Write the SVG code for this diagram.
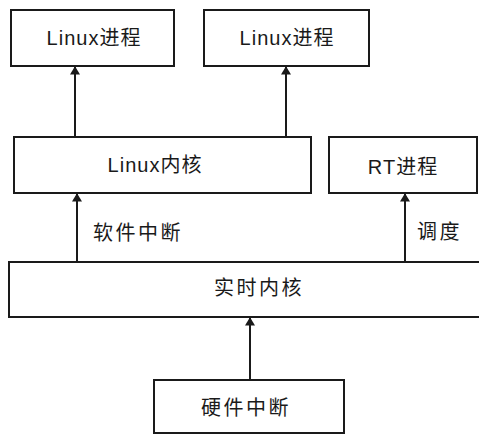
<svg xmlns="http://www.w3.org/2000/svg" width="479" height="434" viewBox="0 0 479 434">
<style>
.box{fill:#fff;stroke:#1a1a1a;stroke-width:2}
.t{font-family:"Liberation Sans","Noto Sans CJK SC",sans-serif;font-size:20px;fill:#1a1a1a;text-anchor:middle;dominant-baseline:central;letter-spacing:1px}
.w{letter-spacing:2.5px}
.lbl{text-anchor:start}
.c{stroke:#1a1a1a;stroke-width:2;fill:none;marker-end:url(#ah)}
</style>
<defs>
<marker id="ah" viewBox="0 0 10 12" refX="9" refY="6" markerWidth="5.5" markerHeight="5" orient="auto" markerUnits="strokeWidth">
<path d="M0,0 L10,6 L0,12 z" fill="#1a1a1a"/>
</marker>
</defs>
<rect width="479" height="434" fill="#fff"/>
<g id="connectors">
<line class="c" x1="75" y1="137" x2="75" y2="67"/>
<line class="c" x1="286" y1="137" x2="286" y2="67"/>
<line class="c" x1="77" y1="262" x2="77" y2="194"/>
<line class="c" x1="405" y1="262" x2="405" y2="194"/>
<line class="c" x1="250" y1="380" x2="250" y2="318"/>
<text class="t w lbl" x="93" y="233">软件中断</text>
<text class="t w lbl" x="417" y="232">调度</text>
</g>
<g id="linux-proc-1">
<rect class="box" x="11" y="10" width="163" height="56"/>
<text class="t" x="94" y="38">Linux进程</text>
</g>
<g id="linux-proc-2">
<rect class="box" x="204" y="10" width="165" height="56"/>
<text class="t" x="287" y="38">Linux进程</text>
</g>
<g id="linux-kernel">
<rect class="box" x="14" y="137" width="297" height="56"/>
<text class="t" x="155" y="165">Linux内核</text>
</g>
<g id="rt-proc">
<rect class="box" x="329" y="137" width="148" height="56"/>
<text class="t" x="403" y="167">RT进程</text>
</g>
<g id="rt-kernel">
<rect class="box" x="9" y="262" width="475" height="55"/>
<text class="t w" x="259" y="288">实时内核</text>
</g>
<g id="hw-int">
<rect class="box" x="154" y="380" width="190" height="53"/>
<text class="t w" x="246" y="408">硬件中断</text>
</g>
</svg>
